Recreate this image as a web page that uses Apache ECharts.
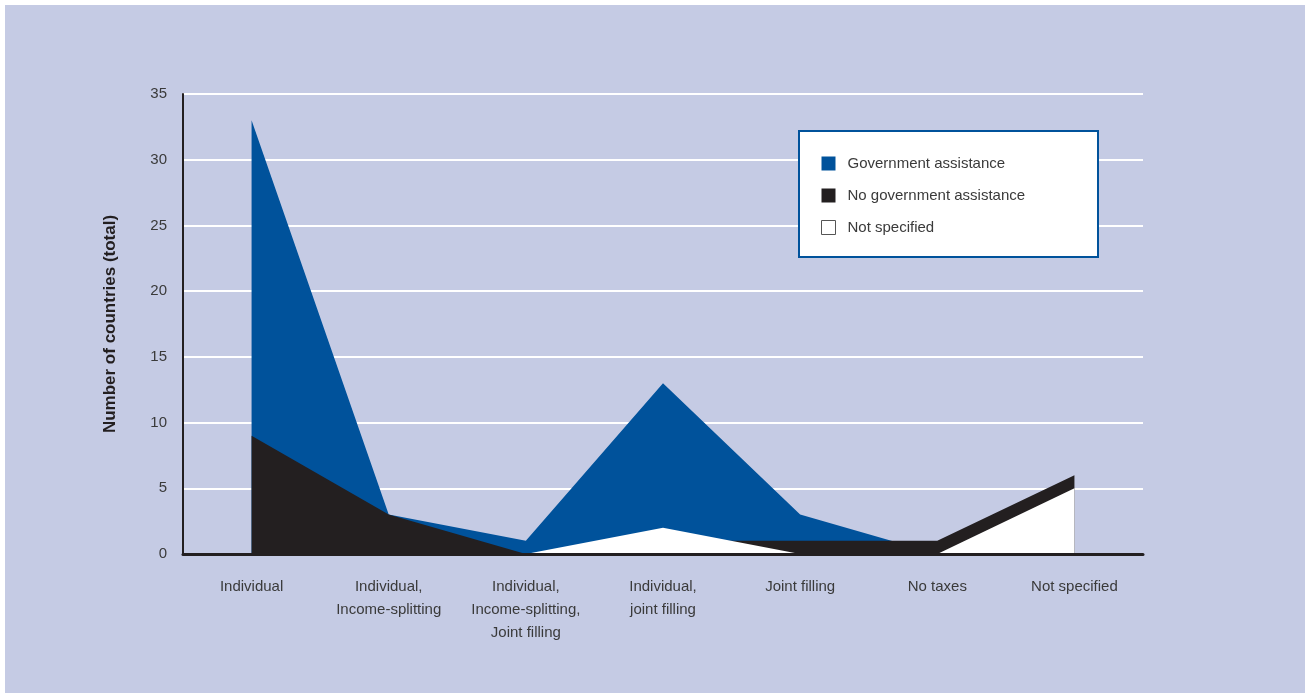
<!DOCTYPE html>
<html>
<head>
<meta charset="utf-8">
<script src="https://cdn.jsdelivr.net/npm/echarts@6/dist/echarts.min.js"></script>
<style>
html,body{margin:0;padding:0;background:#ffffff;width:1311px;height:697px;overflow:hidden;}
#frame{position:absolute;left:5px;top:5px;width:1300px;height:688px;}
</style>
</head>
<body>
<div id="frame"></div>
<script>
// ---- data ----
var categories = ["Individual", "Individual, Income-splitting", "Individual, Income-splitting, Joint filling", "Individual, joint filling", "Joint filling", "No taxes", "Not specified"];
var tickLabels = ["Individual", "Individual,\nIncome-splitting", "Individual,\nIncome-splitting,\nJoint filling", "Individual,\njoint filling", "Joint filling", "No taxes", "Not specified"];
var governmentAssistance = [33, 3, 1, 13, 3, 0, 0];
var noGovernmentAssistance = [9, 3, 0, 1, 1, 1, 6];
var notSpecified = [0, 0, 0, 2, 0, 0, 5];
var yTicks = [0, 5, 10, 15, 20, 25, 30, 35];

var FONT = '"Liberation Sans Narrow", "Arial Narrow", "Liberation Sans", Arial, sans-serif';
var BLUE = '#00529b', BLACK = '#231f20', WHITE = '#ffffff', BG = '#c5cbe4';

var chart = echarts.init(document.getElementById('frame'), null, {renderer: 'canvas'});

function areaSeries(name, data, color, z) {
  return {
    name: name, type: 'line', data: data, symbol: 'none', z: z,
    lineStyle: {width: 0, color: color},
    itemStyle: {color: color},
    areaStyle: {color: color, opacity: 1},
    emphasis: {disabled: true}
  };
}

chart.setOption({
  backgroundColor: BG,
  animation: false,
  grid: {left: 178, top: 89, right: 162, bottom: 139, containLabel: false},
  xAxis: {
    type: 'category', data: categories, boundaryGap: true,
    axisLine: {show: true, lineStyle: {color: BLACK, width: 3}},
    axisTick: {show: false},
    axisLabel: {
      interval: 0, margin: 21, color: '#3a3a3a', fontSize: 15, fontFamily: FONT, lineHeight: 23,
      formatter: function (v, i) { return tickLabels[i]; }
    },
    z: 10
  },
  yAxis: {
    type: 'value', min: 0, max: 35, interval: 5,
    name: 'Number of countries (total)', nameLocation: 'middle', nameGap: 64, nameRotate: 90,
    nameTextStyle: {color: '#231f20', fontSize: 17, fontWeight: 'bold', fontFamily: FONT},
    axisLine: {show: true, lineStyle: {color: BLACK, width: 2}},
    axisTick: {show: false},
    axisLabel: {color: '#3a3a3a', fontSize: 15, fontFamily: FONT, margin: 16,
      formatter: function (v) { return yTicks.indexOf(v) >= 0 ? String(v) : ''; }},
    splitLine: {show: true, lineStyle: {color: '#ffffff', width: 2}}
  },
  legend: {
    orient: 'vertical', left: 811, top: 146, itemWidth: 14, itemHeight: 14, itemGap: 17,
    icon: 'rect',
    textStyle: {color: '#3a3a3a', fontSize: 15, fontFamily: FONT, padding: [0, 0, 0, 7]},
    selectedMode: false,
    data: [
      {name: 'Government assistance', itemStyle: {color: BLUE}},
      {name: 'No government assistance', itemStyle: {color: BLACK}},
      {name: 'Not specified', itemStyle: {color: WHITE, borderColor: '#555555', borderWidth: 1}}
    ],
    z: 20
  },
  graphic: [{
    type: 'rect', left: 793, top: 125, z: 15,
    shape: {width: 299, height: 126},
    style: {fill: '#ffffff', stroke: BLUE, lineWidth: 2}
  }],
  series: [
    areaSeries('Government assistance', governmentAssistance, BLUE, 2),
    areaSeries('No government assistance', noGovernmentAssistance, BLACK, 3),
    areaSeries('Not specified', notSpecified, WHITE, 4)
  ]
});
</script>
</body>
</html>
